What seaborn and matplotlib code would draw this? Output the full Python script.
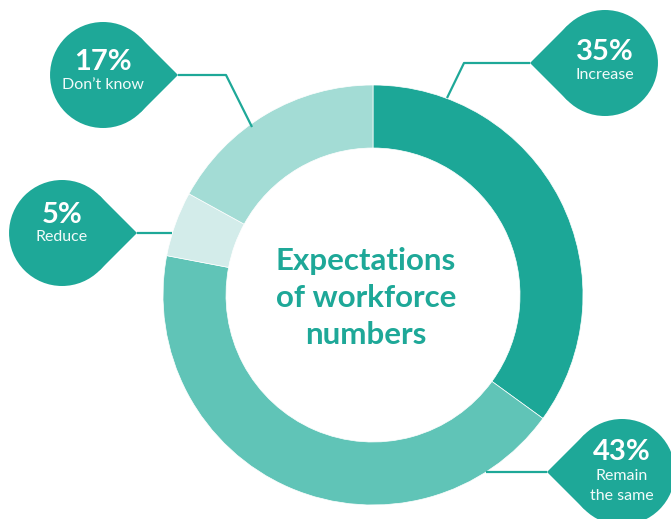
import numpy as np
import matplotlib
matplotlib.use("Agg")
import matplotlib.pyplot as plt
import matplotlib.patches as mpatches
import seaborn as sns

# data
categories = ["Increase", "Remain\nthe same", "Reduce", "Don’t know"]
shares = [35, 43, 5, 17]
seg_colors = ["#1ca797", "#60c4b7", "#d3ecea", "#a3dcd5"]

# callout layout (pixel coords, y down): bubble tip, and connector path towards the ring
tips = [(530, 63), (547, 472), (137, 233), (178, 75)]
tip_dirs = [-1, -1, 1, 1]   # tip points left (-1) or right (+1) of bubble centre
pct_y = [52, 452, 215, 62]
label_y = [75, 486, 237, 85]
connectors = [
    [(530, 63), (464, 63), (447, 98)],
    [(547, 472), (486, 472)],
    [(137, 233), (172, 233)],
    [(178, 75), (226, 75), (252, 127)],
]

teal = "#1ea898"
W, H = 671, 519

sns.set_theme(style="white")
plt.rcParams["font.family"] = ["Lato", "DejaVu Sans"]

fig = plt.figure(figsize=(W / 100, H / 100), dpi=100)
ax = fig.add_axes([0, 0, 1, 1])

# y axis runs downward, so start at -90 and go "counterclockwise" = clockwise on screen
cx, cy, R, ring = 373, 295, 210, 63
ax.pie(shares, colors=seg_colors, startangle=-90, counterclock=True,
       center=(cx, cy), radius=R,
       wedgeprops=dict(width=ring, linewidth=0.5, edgecolor="white"))

ax.set_xlim(0, W)
ax.set_ylim(H, 0)
ax.set_aspect("auto")
ax.axis("off")

# connector lines
for path in connectors:
    xs, ys = zip(*path)
    ax.plot(xs, ys, color=teal, lw=1.6, solid_capstyle="butt", zorder=2)

# teardrop bubbles
r = 53
for (tx, ty), d, lab, val, py, ly in zip(tips, tip_dirs, categories, shares, pct_y, label_y):
    bx = tx - d * r * np.sqrt(2)
    by = ty
    ax.add_patch(mpatches.Circle((bx, by), r, color=teal, lw=0, zorder=3))
    a0 = 0 if d > 0 else np.pi
    pts = [(tx, ty),
           (bx + r * np.cos(a0 + np.pi / 4), by + r * np.sin(a0 + np.pi / 4)),
           (bx, by),
           (bx + r * np.cos(a0 - np.pi / 4), by + r * np.sin(a0 - np.pi / 4))]
    ax.add_patch(mpatches.Polygon(pts, closed=True, color=teal, lw=0, zorder=3))
    ax.text(bx, py, f"{val}%", ha="center", va="center",
            color="white", fontsize=21, fontweight="bold", zorder=4)
    ax.text(bx, ly, lab, ha="center", va="center",
            color="#f2fbfa", fontsize=11.5, linespacing=1.6, zorder=4)

# centre title
ax.text(366, 298, "Expectations\nof workforce\nnumbers", ha="center", va="center",
        color=teal, fontsize=22.5, fontweight="bold", linespacing=1.4)

fig.savefig("out.png", dpi=100)
